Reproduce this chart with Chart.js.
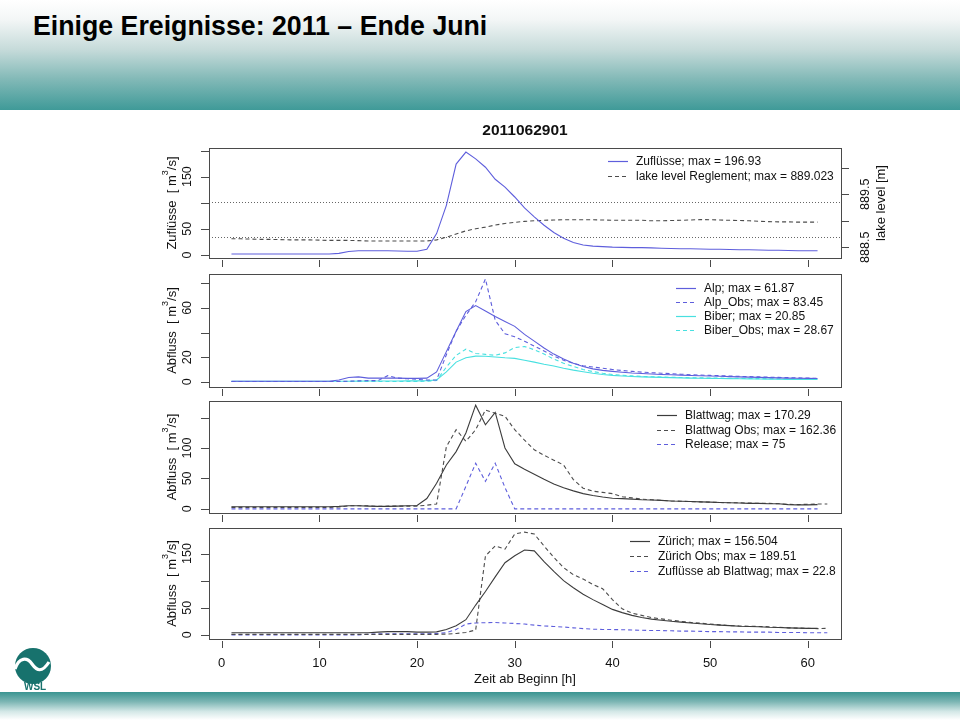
<!DOCTYPE html>
<html>
<head>
<meta charset="utf-8">
<title>Einige Ereignisse: 2011 – Ende Juni</title>
<script src="https://cdn.jsdelivr.net/npm/chart.js@4.4.0/dist/chart.umd.min.js"></script>
<style>
    html, body { margin: 0; padding: 0; background: #fff; }
    #page { position: relative; width: 960px; height: 720px; overflow: hidden; background: #fff;
            font-family: "Liberation Sans", Arial, sans-serif; }
    #head { position: absolute; left: 0; top: 0; width: 960px; height: 110px;
            background: linear-gradient(to bottom, #ffffff 0%, #f3f6f6 18%, #c6dbda 45%, #82b9b7 72%, #3f9a98 100%); }
    #head h1 { position: absolute; left: 33px; top: 12px; margin: 0; font-size: 28px; line-height: 28px;
               font-weight: bold; color: #000; white-space: nowrap;
               transform: scaleX(0.954); transform-origin: 0 50%; }
    #foot { position: absolute; left: 0; top: 692px; width: 960px; height: 28px; z-index: 5;
            background: linear-gradient(to bottom, #3a9592 0%, #7db6b4 35%, #d4e8e7 70%, #ffffff 100%); }
    #logo { position: absolute; left: 11px; top: 646px; z-index: 6; }
    canvas { position: absolute; left: 0; top: 0; }
</style>
</head>
<body>
<div id="page">
    <div id="head"><h1>Einige Ereignisse: 2011 – Ende Juni</h1></div>
    <canvas id="p1" width="960" height="720"></canvas>
    <canvas id="p2" width="960" height="720"></canvas>
    <canvas id="p3" width="960" height="720"></canvas>
    <canvas id="p4" width="960" height="720"></canvas>
    <svg id="logo" width="44" height="46" viewBox="0 0 44 46">
        <circle cx="22" cy="20" r="18" fill="#17726d"/>
        <path d="M4,23 C8,11 16,11 21,18 C26,25 31,27 38,16" stroke="#fff" stroke-width="3.2" fill="none"/>
        <path d="M6,31 C9,36 13,38 17,39 L42,39 L42,46 L6,46 Z" fill="#fff"/>
        <text x="13" y="44" font-family="Liberation Sans, Arial" font-size="10" font-weight="bold" fill="#17726d">WSL</text>
    </svg>
    <div id="foot"></div>
</div>

<script>
// Zeitachse [h]
const HOURS = [1, 2, 3, 4, 5, 6, 7, 8, 9, 10, 11, 12, 13, 14, 15, 16, 17, 18, 19, 20,
    21, 22, 23, 24, 25, 26, 27, 28, 29, 30, 31, 32, 33, 34, 35, 36, 37, 38, 39, 40,
    41, 42, 43, 44, 45, 46, 47, 48, 49, 50, 51, 52, 53, 54, 55, 56, 57, 58, 59, 60, 61, 62];
const X_TICKS = [0, 10, 20, 30, 40, 50, 60];

// Panel 1: Zuflüsse + Seepegel
const ZUFLUSSE = [2, 2, 2, 2, 2, 2, 2, 2, 2, 2,
    2, 3, 6.5, 8, 8, 8, 8, 7.5, 7, 7,
    11, 41, 95, 174, 196.93, 184, 168, 145, 130, 111,
    90, 73, 57, 43, 32, 24, 19, 17, 16, 15,
    14.5, 14, 14, 13.5, 13, 12.5, 12, 12, 11.5, 11,
    11, 10.5, 10, 10, 9.5, 9, 9, 8.5, 8, 8,
    8, null];
const LAKE_LEVEL = [888.66, 888.66, 888.655, 888.65, 888.65, 888.645, 888.64, 888.64, 888.64, 888.635,
    888.63, 888.63, 888.63, 888.625, 888.62, 888.62, 888.62, 888.62, 888.62, 888.62,
    888.62, 888.64, 888.69, 888.75, 888.81, 888.85, 888.88, 888.92, 888.95, 888.97,
    888.99, 889.0, 889.01, 889.015, 889.02, 889.02, 889.02, 889.02, 889.015, 889.01,
    889.01, 889.01, 889.01, 889.0, 889.0, 889.005, 889.01, 889.015, 889.023, 889.02,
    889.015, 889.01, 889.005, 889.0, 888.99, 888.985, 888.98, 888.98, 888.975, 888.975,
    888.975, null];
const LAKE_THRESHOLDS = [888.70, 889.35];

// Panel 2: Alp / Biber
const ALP = [0.5, 0.5, 0.5, 0.5, 0.5, 0.5, 0.5, 0.5, 0.5, 0.5,
    0.5, 1.5, 3.5, 4, 3, 3, 3, 3, 2.8, 2.8,
    3, 8, 24.5, 41, 57, 61.87, 57.5, 53, 49, 45,
    38.5, 33, 27.5, 22.5, 18.5, 15, 12.5, 10.5, 9.3, 8.5,
    7.8, 7.2, 6.8, 6.4, 6, 5.7, 5.4, 5.1, 4.9, 4.7,
    4.5, 4.2, 4, 3.8, 3.6, 3.4, 3.2, 3, 2.9, 2.8,
    2.7, null];
const ALP_OBS = [0.3, 0.3, 0.3, 0.3, 0.3, 0.3, 0.3, 0.3, 0.3, 0.3,
    0.3, 0.3, 0.5, 0.8, 1, 1, 5, 3, 2.5, 2,
    1.5, 1.5, 22, 41, 54, 65, 83.45, 50, 39, 36.5,
    33, 29, 25, 21, 17.5, 15, 13, 12, 11, 10,
    9.2, 8.5, 7.9, 7.4, 7, 6.6, 6.2, 5.8, 5.5, 5.2,
    5, 4.7, 4.4, 4.2, 4, 3.8, 3.6, 3.4, 3.2, 3,
    2.9, null];
const BIBER = [0.5, 0.5, 0.5, 0.5, 0.5, 0.5, 0.5, 0.5, 0.5, 0.5,
    0.5, 0.5, 0.5, 0.6, 0.7, 0.7, 0.7, 0.7, 0.8, 0.8,
    1, 1.5, 8, 16, 19.5, 20.85, 20.8, 20.2, 19.5, 19,
    17.5, 16, 14.3, 12.8, 11, 9.5, 8.2, 7, 6, 5.2,
    4.7, 4.3, 4, 3.8, 3.6, 3.4, 3.2, 3, 2.9, 2.8,
    2.7, 2.6, 2.5, 2.4, 2.3, 2.2, 2.1, 2, 2, 1.9,
    1.9, null];
const BIBER_OBS = [0.3, 0.3, 0.3, 0.3, 0.3, 0.3, 0.3, 0.3, 0.3, 0.3,
    0.3, 0.3, 0.3, 0.3, 0.3, 0.3, 0.3, 0.3, 0.3, 0.3,
    0.5, 1, 12, 21.5, 26.5, 23, 22.3, 21.5, 23.5, 27.8,
    28.67, 26, 22.5, 18.5, 15, 12.5, 10, 8.3, 7, 6,
    5.3, 4.8, 4.4, 4.1, 3.9, 3.7, 3.5, 3.3, 3.2, 3.1,
    3, 2.9, 2.8, 2.7, 2.6, 2.5, 2.4, 2.3, 2.2, 2.2,
    2.1, null];

// Panel 3: Blattwag
const BLATTWAG = [3.5, 3.5, 3.5, 3.5, 3.5, 3.5, 3.5, 3.5, 3.5, 3.5,
    3.5, 4, 5, 5, 4.5, 4, 4, 4.5, 5, 5.5,
    17, 42, 72, 94, 124.5, 170.29, 138, 158.5, 100, 74,
    65, 57, 48.5, 41, 34.5, 29.5, 25, 22, 19.5, 17.5,
    16.8, 16, 15, 14.5, 14, 13, 12.5, 12, 11.5, 11,
    10.5, 10, 9.5, 9, 9, 8.5, 8.5, 7, 6.5, 6.5,
    7, null];
const BLATTWAG_OBS = [2.5, 2.5, 2.5, 2.5, 2.5, 2.5, 2.5, 2.5, 2.5, 2.5,
    2.5, 3, 5, 5, 5, 4, 4.5, 4.5, 4.5, 4.5,
    6, 8, 102, 130, 111, 130, 162.36, 157, 152, 130,
    113, 97, 88, 80, 72, 48, 34, 29, 27, 25,
    20, 18, 16, 15, 14, 13, 12.5, 12, 11.5, 11,
    10.5, 10, 10, 9.5, 9, 9, 8.5, 7.5, 7, 7.5,
    8, 8];
const RELEASE = [0, 0, 0, 0, 0, 0, 0, 0, 0, 0,
    0, 0, 0, 0, 0, 0, 0, 0, 0, 0,
    0, 0, 0, 0, 37, 75, 45, 75, 35, 0,
    0, 0, 0, 0, 0, 0, 0, 0, 0, 0,
    0, 0, 0, 0, 0, 0, 0, 0, 0, 0,
    0, 0, 0, 0, 0, 0, 0, 0, 0, 0,
    0, null];

// Panel 4: Zürich
const ZUERICH = [4, 4, 4, 4, 4, 4, 4, 4, 4, 4,
    4, 4, 4, 4, 4, 5, 6, 6, 6, 5,
    5, 5.5, 10, 17, 28, 55, 80, 107, 133, 146,
    156.504, 155, 135, 117, 100, 87, 75, 65, 56, 47,
    41, 36, 32, 29, 27, 25, 23.5, 22, 20.5, 19,
    18, 17, 16, 15.5, 15, 14, 13.5, 13, 12.5, 12,
    12, null];
const ZUERICH_OBS = [1, 1, 1, 1, 1, 1, 1, 1, 1, 1,
    1, 1, 1, 1, 1, 1, 1, 1, 1, 1,
    1, 1, 1.5, 2.5, 4.5, 9, 145.5, 164, 158, 186,
    189.51, 186, 164, 143, 124, 111, 103, 93, 85, 65,
    48, 40, 36, 32, 29.5, 27, 25, 23, 21.5, 20,
    18.5, 17, 16.5, 16, 15.5, 15, 14, 13, 12.5, 12,
    11.5, 12];
const ZUFL_AB_BLATTWAG = [0, 0, 0, 0, 0, 0, 0, 0, 0, 0,
    0, 0, 0, 0, 1, 2, 2, 2, 2, 2,
    2, 2.5, 4, 10, 20, 22, 22.5, 22.8, 22, 21,
    20, 18, 16.5, 15.5, 14.5, 13, 11.5, 10.5, 10, 9.8,
    9.5, 9, 8.5, 8, 8, 7.5, 7, 7, 6.5, 6,
    6, 5.5, 5.5, 5, 5, 5, 4.5, 4.5, 4.5, 4,
    4, 4];

// Achsen-Ticks (R lässt überlappende Beschriftungen weg)
const P1_TICKS = [0, 50, 100, 150, 200];
const P1_LABELS = [0, 50, 150];
const LAKE_TICKS = [888.5, 889, 889.5, 890];
const LAKE_LABELS = [888.5, 889.5];
const P2_TICKS = [0, 20, 40, 60, 80];
const P2_LABELS = [0, 20, 60];
const P3_TICKS = [0, 50, 100, 150];
const P3_LABELS = [0, 50, 100];
const P4_TICKS = [0, 50, 100, 150];
const P4_LABELS = [0, 50, 150];

const FONT = '"Liberation Sans", Arial, sans-serif';
const AXIS_COLOR = '#4a4a4a';
const TEXT_COLOR = '#111';
const BLUE = '#5e5edc';
const CYAN = '#48e0e0';
const GREY = '#3c3c3c';
const GREY_DASH = '#4c4c4c';

// Rotierter Text (R: las = 0)
function rotText(ctx, txt, x, y) {
    ctx.save();
    ctx.translate(x, y);
    ctx.rotate(-Math.PI / 2);
    ctx.fillText(txt, 0, 0);
    ctx.restore();
}

// y-Achsentitel mit hochgestellter 3
function yTitle(ctx, cx, cy, base, sup, rest) {
    const f = '13px ' + FONT, fs = '9px ' + FONT;
    ctx.save();
    ctx.translate(cx, cy);
    ctx.rotate(-Math.PI / 2);
    ctx.textAlign = 'left';
    ctx.textBaseline = 'middle';
    ctx.font = f;
    const w1 = ctx.measureText(base).width, w3 = ctx.measureText(rest).width;
    ctx.font = fs;
    const w2 = ctx.measureText(sup).width;
    const x0 = -(w1 + w2 + w3) / 2;
    ctx.font = f;
    ctx.fillText(base, x0, 0);
    ctx.font = fs;
    ctx.fillText(sup, x0 + w1, -6);
    ctx.font = f;
    ctx.fillText(rest, x0 + w1 + w2, 0);
    ctx.restore();
}

// Achsen, Box und Beschriftung im Stil von R base graphics
const rAxes = {
    id: 'rAxes',
    beforeDatasetsDraw(chart, args, o) {
        if (!o.thresholds) return;
        const ctx = chart.ctx, a = chart.chartArea, s = chart.scales[o.thresholdAxis];
        ctx.save();
        ctx.strokeStyle = '#666';
        ctx.lineWidth = 1;
        ctx.setLineDash([1, 2]);
        o.thresholds.forEach(v => {
            const py = Math.round(s.getPixelForValue(v)) + 0.5;
            ctx.beginPath();
            ctx.moveTo(a.left, py);
            ctx.lineTo(a.right, py);
            ctx.stroke();
        });
        ctx.restore();
    },
    afterDraw(chart, args, o) {
        const ctx = chart.ctx, a = chart.chartArea;
        const xs = chart.scales.x, ys = chart.scales.y;
        ctx.save();
        ctx.strokeStyle = AXIS_COLOR;
        ctx.lineWidth = 1;
        ctx.setLineDash([]);
        ctx.strokeRect(a.left + 0.5, a.top + 0.5, a.right - a.left, a.bottom - a.top);

        ctx.beginPath();
        X_TICKS.forEach(v => {
            const px = Math.round(xs.getPixelForValue(v)) + 0.5;
            ctx.moveTo(px, a.bottom + 2);
            ctx.lineTo(px, a.bottom + 9);
        });
        o.yTicks.forEach(v => {
            const py = Math.round(ys.getPixelForValue(v)) + 0.5;
            ctx.moveTo(a.left - 8, py);
            ctx.lineTo(a.left, py);
        });
        if (o.right) {
            const rs = chart.scales[o.right.axis];
            o.right.ticks.forEach(v => {
                const py = Math.round(rs.getPixelForValue(v)) + 0.5;
                ctx.moveTo(a.right + 1, py);
                ctx.lineTo(a.right + 8, py);
            });
        }
        ctx.stroke();

        ctx.fillStyle = TEXT_COLOR;
        ctx.font = '12.5px ' + FONT;
        ctx.textAlign = 'center';
        ctx.textBaseline = 'middle';
        o.yLabels.forEach(v => rotText(ctx, String(v), 188, ys.getPixelForValue(v)));
        yTitle(ctx, 172, (a.top + a.bottom) / 2, o.yTitle, '3', '/s]');

        if (o.right) {
            const rs = chart.scales[o.right.axis];
            ctx.font = '12.5px ' + FONT;
            o.right.labels.forEach(v => rotText(ctx, String(v), 866, rs.getPixelForValue(v)));
            ctx.font = '13px ' + FONT;
            rotText(ctx, o.right.title, 881, (a.top + a.bottom) / 2);
        }
        if (o.title) {
            ctx.font = 'bold 15.5px ' + FONT;
            ctx.fillText(o.title, (a.left + a.right) / 2, 131);
        }
        if (o.xLabels) {
            ctx.font = '13px ' + FONT;
            X_TICKS.forEach(v => ctx.fillText(String(v), xs.getPixelForValue(v), a.bottom + 24));
            ctx.fillText(o.xTitle, (a.left + a.right) / 2, a.bottom + 40);
        }
        ctx.restore();
    }
};

// Legende oben rechts, ohne Rahmen (R legend, bty = "n")
const rLegend = {
    id: 'rLegend',
    afterDraw(chart, args, o) {
        const ctx = chart.ctx;
        ctx.save();
        ctx.font = '12px ' + FONT;
        ctx.textAlign = 'left';
        ctx.textBaseline = 'middle';
        chart.data.datasets.forEach((ds, i) => {
            const y = Math.round(o.y + i * o.gap) + 0.5;
            ctx.strokeStyle = ds.borderColor;
            ctx.lineWidth = 1.2;
            ctx.setLineDash(ds.borderDash || []);
            ctx.beginPath();
            ctx.moveTo(o.x - 28, y);
            ctx.lineTo(o.x - 8, y);
            ctx.stroke();
            ctx.fillStyle = TEXT_COLOR;
            ctx.fillText(ds.label, o.x, y);
        });
        ctx.restore();
    }
};

function series(label, data, color, dash, axis) {
    return {
        label: label,
        data: data,
        borderColor: color,
        borderWidth: 1.1,
        borderDash: dash || [],
        pointRadius: 0,
        tension: 0,
        fill: false,
        spanGaps: false,
        yAxisID: axis || 'y'
    };
}

const X_MIN = -1.3, X_MAX = 63.4;
const BOX_LEFT = 209, BOX_RIGHT = 841;

function makePanel(id, top, bottom, yMin, yMax, datasets, axes, legend, extraScales) {
    const scales = Object.assign({
        x: { type: 'linear', display: false, min: X_MIN, max: X_MAX },
        y: { type: 'linear', display: false, min: yMin, max: yMax }
    }, extraScales || {});
    return new Chart(document.getElementById(id), {
        type: 'line',
        data: { labels: HOURS, datasets: datasets },
        options: {
            responsive: false,
            animation: false,
            events: [],
            layout: { padding: { left: BOX_LEFT, right: 960 - BOX_RIGHT, top: top, bottom: 720 - bottom } },
            scales: scales,
            plugins: {
                legend: { display: false },
                tooltip: { enabled: false },
                rAxes: axes,
                rLegend: legend
            }
        },
        plugins: [rAxes, rLegend]
    });
}

const DASH = [4, 3];

makePanel('p1', 148, 258, -5.8, 204.8, [
    series('Zuflüsse; max = 196.93', ZUFLUSSE, BLUE),
    series('lake level Reglement; max = 889.023', LAKE_LEVEL, GREY_DASH, DASH, 'y2')
], {
    yTicks: P1_TICKS, yLabels: P1_LABELS, yTitle: 'Zuflüsse  [ m',
    title: '2011062901',
    thresholds: LAKE_THRESHOLDS, thresholdAxis: 'y2',
    right: { axis: 'y2', ticks: LAKE_TICKS, labels: LAKE_LABELS, title: 'lake level [m]' }
}, { x: 636, y: 161, gap: 14.5 }, {
    y2: { type: 'linear', display: false, min: 888.298, max: 890.374 }
});

makePanel('p2', 274, 387, -4.2, 87.5, [
    series('Alp; max = 61.87', ALP, BLUE),
    series('Alp_Obs; max = 83.45', ALP_OBS, BLUE, DASH),
    series('Biber; max = 20.85', BIBER, CYAN),
    series('Biber_Obs; max = 28.67', BIBER_OBS, CYAN, DASH)
], { yTicks: P2_TICKS, yLabels: P2_LABELS, yTitle: 'Abfluss  [ m' },
   { x: 704, y: 288, gap: 14 });

makePanel('p3', 401, 513, -6.8, 177.1, [
    series('Blattwag; max = 170.29', BLATTWAG, GREY),
    series('Blattwag Obs; max = 162.36', BLATTWAG_OBS, GREY_DASH, DASH),
    series('Release; max = 75', RELEASE, BLUE, DASH)
], { yTicks: P3_TICKS, yLabels: P3_LABELS, yTitle: 'Abfluss  [ m' },
   { x: 685, y: 415, gap: 14.5 });

makePanel('p4', 528, 639, -7.6, 197.1, [
    series('Zürich; max = 156.504', ZUERICH, GREY),
    series('Zürich Obs; max = 189.51', ZUERICH_OBS, GREY_DASH, DASH),
    series('Zuflüsse ab Blattwag; max = 22.8', ZUFL_AB_BLATTWAG, BLUE, DASH)
], {
    yTicks: P4_TICKS, yLabels: P4_LABELS, yTitle: 'Abfluss  [ m',
    xLabels: true, xTitle: 'Zeit ab Beginn [h]'
}, { x: 658, y: 541, gap: 15 });
</script>
</body>
</html>
